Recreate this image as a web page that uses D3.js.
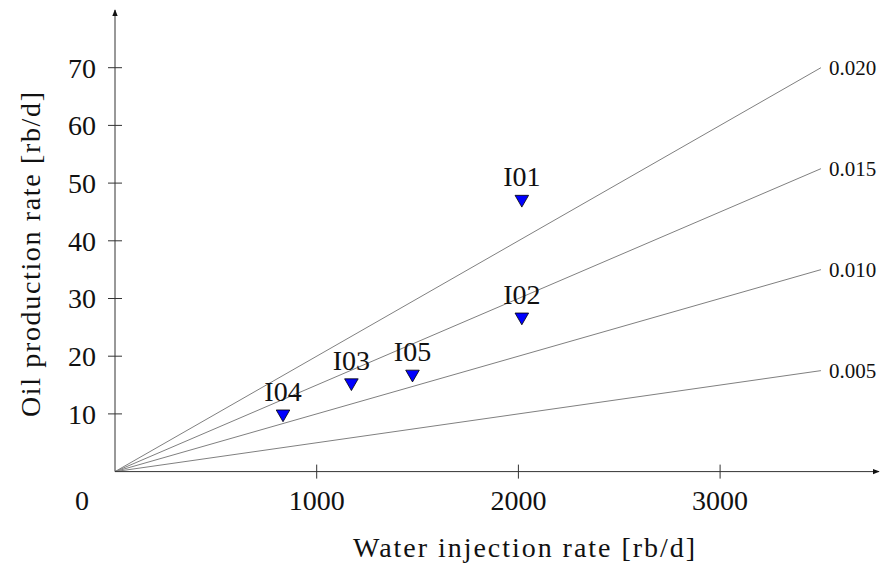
<!DOCTYPE html>
<html>
<head>
<meta charset="utf-8">
<script src="https://cdn.jsdelivr.net/npm/d3@7"></script>
<style>
  html, body { margin: 0; padding: 0; background: #fff; }
  text { font-family: "Liberation Serif", "Times New Roman", serif; fill: #111; }
</style>
</head>
<body>
<svg id="chart" width="881" height="567"></svg>
<script>
// Injector wells: water injection vs. oil production
const wells = ["I01", "I02", "I03", "I04", "I05"];
const injection = [2017, 2017, 1172, 833, 1475];
const production = [47.2, 26.8, 15.4, 10.0, 16.9];

// Constant-ratio reference lines (oil / water)
const ratios = [0.020, 0.015, 0.010, 0.005];
const ratioLabels = ["0.020", "0.015", "0.010", "0.005"];
const lineEnd = 3500;

const xTicks = [1000, 2000, 3000];
const yTicks = [10, 20, 30, 40, 50, 60, 70];

const svg = d3.select("#chart");
const x = d3.scaleLinear().domain([0, 1000]).range([115, 316.7]);
const y = d3.scaleLinear().domain([0, 70]).range([471.6, 67.7]);

const axisColor = "#333";

// Reference lines from the origin
svg.append("g").selectAll("line").data(ratios).join("line")
  .attr("x1", x(0)).attr("y1", y(0))
  .attr("x2", x(lineEnd)).attr("y2", r => y(r * lineEnd))
  .attr("stroke", "#808080").attr("stroke-width", 1);

svg.append("g").selectAll("text").data(ratios).join("text")
  .attr("x", x(lineEnd) + 8).attr("y", r => y(r * lineEnd))
  .attr("dy", "0.33em")
  .attr("font-size", 21)
  .text((r, i) => ratioLabels[i]);

// Axes with arrow heads
const defs = svg.append("defs");
defs.append("marker").attr("id", "arrow")
  .attr("viewBox", "0 0 10 10").attr("refX", 9).attr("refY", 5)
  .attr("markerWidth", 7).attr("markerHeight", 7).attr("orient", "auto")
  .append("path").attr("d", "M0,1 L10,5 L0,9 Z").attr("fill", "#111");

svg.append("line")
  .attr("x1", x(0)).attr("y1", y(0)).attr("x2", 879).attr("y2", y(0))
  .attr("stroke", axisColor).attr("stroke-width", 1).attr("marker-end", "url(#arrow)");
svg.append("line")
  .attr("x1", x(0)).attr("y1", y(0)).attr("x2", x(0)).attr("y2", 10)
  .attr("stroke", axisColor).attr("stroke-width", 1).attr("marker-end", "url(#arrow)");

// Ticks crossing the axes
svg.append("g").selectAll("line").data(xTicks).join("line")
  .attr("x1", d => x(d)).attr("x2", d => x(d))
  .attr("y1", y(0) - 7).attr("y2", y(0) + 7)
  .attr("stroke", axisColor);
svg.append("g").selectAll("line").data(yTicks).join("line")
  .attr("y1", d => y(d)).attr("y2", d => y(d))
  .attr("x1", x(0) - 7).attr("x2", x(0) + 7)
  .attr("stroke", axisColor);

// Tick labels
svg.append("g").selectAll("text").data(xTicks).join("text")
  .attr("x", d => x(d)).attr("y", 510)
  .attr("text-anchor", "middle").attr("font-size", 28)
  .text(d => d);
svg.append("g").selectAll("text").data(yTicks).join("text")
  .attr("x", 96).attr("y", d => y(d))
  .attr("dy", "0.35em")
  .attr("text-anchor", "end").attr("font-size", 28)
  .text(d => d);
svg.append("text").attr("x", 82).attr("y", 510)
  .attr("text-anchor", "middle").attr("font-size", 28).text("0");

// Axis titles
svg.append("text").attr("x", 353).attr("y", 557)
  .attr("font-size", 28)
  .attr("textLength", 342).attr("lengthAdjust", "spacing")
  .text("Water injection rate [rb/d]");
svg.append("text")
  .attr("transform", `translate(40, 417) rotate(-90)`)
  .attr("font-size", 28)
  .attr("textLength", 325).attr("lengthAdjust", "spacing")
  .text("Oil production rate [rb/d]");

// Well markers: downward triangles centred on the data point
const tri = d3.symbol().type(d3.symbolTriangle).size(80);
const pts = wells.map((w, i) => ({ w, xv: injection[i], yv: production[i] }));

svg.append("g").selectAll("path").data(pts).join("path")
  .attr("d", tri)
  .attr("transform", d => `translate(${x(d.xv)}, ${y(d.yv)}) rotate(180)`)
  .attr("fill", "#0000ff").attr("stroke", "#000").attr("stroke-width", 0.8);

svg.append("g").selectAll("text").data(pts).join("text")
  .attr("x", d => x(d.xv)).attr("y", d => y(d.yv) - 13)
  .attr("text-anchor", "middle").attr("font-size", 28)
  .text(d => d.w);
</script>
</body>
</html>
